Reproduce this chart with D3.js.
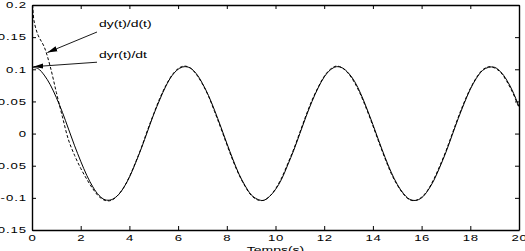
<!DOCTYPE html>
<html>
<head>
<meta charset="utf-8">
<script src="https://cdn.jsdelivr.net/npm/d3@7"></script>
<style>
  html, body { margin: 0; padding: 0; background: #fff; }
  svg { display: block; }
  text { font-family: "Liberation Sans", Arial, sans-serif; fill: #000; }
</style>
</head>
<body>
<div id="chart"></div>
<script>
// time grid (s)
const time = d3.range(0, 20.001, 0.25);

// dyr(t)/dt, solid
const dyr = [
  0.103, 0.101, 0.091, 0.076, 0.056, 0.033, 0.007, -0.019,
  -0.043, -0.065, -0.083, -0.096, -0.103, -0.103, -0.097, -0.085,
  -0.068, -0.046, -0.022, 0.004, 0.030, 0.053, 0.074, 0.090,
  0.100, 0.104, 0.102, 0.093, 0.078, 0.059, 0.036, 0.011,
  -0.015, -0.040, -0.063, -0.081, -0.095, -0.102, -0.104, -0.098,
  -0.087, -0.071, -0.049, -0.026, 0.000, 0.026, 0.050, 0.071,
  0.088, 0.099, 0.104, 0.102, 0.094, 0.081, 0.062, 0.039,
  0.014, -0.012, -0.037, -0.060, -0.079, -0.093, -0.102, -0.104,
  -0.100, -0.089, -0.073, -0.052, -0.029, -0.003, 0.023, 0.047,
  0.069, 0.086, 0.098, 0.103, 0.103, 0.096, 0.083, 0.065,
  0.042
];

// dy(t)/d(t), dashed (first samples before the regular grid)
const dyHeadTime = [0.03, 0.08];
const dyHead = [0.2, 0.176];
const dy = [
  0.153, 0.135, 0.104, 0.064, 0.026, -0.010, -0.034,
  -0.054, -0.071, -0.086, -0.098, -0.104, -0.104, -0.097, -0.085,
  -0.067, -0.045, -0.021, 0.006, 0.031, 0.055, 0.075, 0.091,
  0.101, 0.105, 0.102, 0.092, 0.077, 0.058, 0.034, 0.009,
  -0.017, -0.042, -0.064, -0.082, -0.096, -0.103, -0.104, -0.098,
  -0.086, -0.069, -0.047, -0.024, 0.002, 0.028, 0.052, 0.072,
  0.089, 0.100, 0.105, 0.102, 0.093, 0.079, 0.060, 0.037,
  0.012, -0.014, -0.039, -0.062, -0.080, -0.094, -0.103, -0.104,
  -0.099, -0.088, -0.071, -0.050, -0.027, -0.001, 0.025, 0.049,
  0.070, 0.087, 0.099, 0.104, 0.102, 0.095, 0.081, 0.063,
  0.040
];

const xTicks = d3.range(0, 20.001, 2);
const yTicks = [-0.15, -0.1, -0.05, 0, 0.05, 0.1, 0.15, 0.2];

// annotations: label position and arrow tail/tip, in data units
const labels = ['dy(t)/d(t)', 'dyr(t)/dt'];
const labelAt = [[2.75, 0.166], [2.75, 0.118]];
const arrowFrom = [[2.67, 0.158], [2.67, 0.111]];
const arrowTo = [[0.63, 0.126], [0.05, 0.104]];

const W = 525, H = 251;
const margin = { top: 5, right: 6, bottom: 21, left: 32 };
const SX = 1.55; // horizontal stretch of the lettering

const svg = d3.select('#chart').append('svg')
  .attr('width', W)
  .attr('height', H);

svg.append('rect').attr('width', W).attr('height', H).attr('fill', '#fff');

const x = d3.scaleLinear().domain([0, 20]).range([margin.left, W - margin.right]);
const y = d3.scaleLinear().domain([-0.15, 0.2]).range([H - margin.bottom, margin.top]);

function stretch(sel) {
  sel.each(function () {
    const t = d3.select(this);
    const tx = +t.attr('x') || 0;
    t.attr('x', tx / SX).attr('transform', `scale(${SX},1)`);
  });
}

const fmt = d => (d === 0 ? '0' : String(+d.toFixed(2)));

// axes
const gx = svg.append('g')
  .attr('transform', `translate(0,${y(-0.15)})`)
  .call(d3.axisBottom(x).tickValues(xTicks).tickSize(-4).tickSizeOuter(0).tickPadding(5).tickFormat(d3.format('d')));
const gy = svg.append('g')
  .attr('transform', `translate(${x(0)},0)`)
  .call(d3.axisLeft(y).tickValues(yTicks).tickSize(-4).tickSizeOuter(0).tickPadding(5).tickFormat(fmt));
const gt = svg.append('g')
  .attr('transform', `translate(0,${y(0.2)})`)
  .call(d3.axisTop(x).tickValues(xTicks).tickSize(-4).tickSizeOuter(0).tickFormat(''));
const gr = svg.append('g')
  .attr('transform', `translate(${x(20)},0)`)
  .call(d3.axisRight(y).tickValues(yTicks).tickSize(-4).tickSizeOuter(0).tickFormat(''));

[gx, gy, gt, gr].forEach(g => {
  g.selectAll('.domain').attr('stroke', '#000').attr('stroke-width', 1.4);
  g.selectAll('.tick line').attr('stroke', '#000').attr('stroke-width', 1);
  g.selectAll('.tick text')
    .style('font-family', '"Liberation Sans", Arial, sans-serif')
    .style('font-size', '8.5px')
    .style('letter-spacing', '0.4px')
    .attr('fill', '#000')
    .call(stretch);
});
gy.selectAll('.tick text').style('letter-spacing', '0.6px');

// axis title
svg.append('text')
  .attr('transform', `translate(${(x(0) + x(20)) / 2},${H + 2}) scale(${SX},1)`)
  .attr('text-anchor', 'middle')
  .style('font-size', '9px')
  .text('Temps(s)');

// curves
const line = d3.line()
  .x(d => x(d[0]))
  .y(d => y(d[1]))
  .curve(d3.curveCatmullRom);

const solidPts = time.map((t, i) => [t, dyr[i]]);
const dashPts = dyHeadTime.map((t, i) => [t, dyHead[i]])
  .concat(time.slice(1).map((t, i) => [t, dy[i]]));

const plot = svg.append('g');
plot.append('path')
  .datum(dashPts)
  .attr('d', line)
  .attr('fill', 'none')
  .attr('stroke', '#000')
  .attr('stroke-width', 1)
  .attr('stroke-dasharray', '3,2');

plot.append('path')
  .datum(solidPts)
  .attr('d', line)
  .attr('fill', 'none')
  .attr('stroke', '#000')
  .attr('stroke-width', 1);

// arrows
svg.append('defs').append('marker')
  .attr('id', 'head')
  .attr('markerUnits', 'userSpaceOnUse')
  .attr('viewBox', '0 -3 10 6')
  .attr('refX', 10)
  .attr('refY', 0)
  .attr('markerWidth', 10)
  .attr('markerHeight', 6)
  .attr('orient', 'auto')
  .append('path')
  .attr('d', 'M0,-2.6L10,0L0,2.6Z')
  .attr('fill', '#000');

labels.forEach((lab, i) => {
  svg.append('line')
    .attr('x1', x(arrowFrom[i][0]))
    .attr('y1', y(arrowFrom[i][1]))
    .attr('x2', x(arrowTo[i][0]))
    .attr('y2', y(arrowTo[i][1]))
    .attr('stroke', '#000')
    .attr('stroke-width', 0.9)
    .attr('marker-end', 'url(#head)');

  svg.append('text')
    .attr('transform', `translate(${x(labelAt[i][0])},${y(labelAt[i][1])}) scale(${SX},1)`)
    .style('font-size', '9px')
    .text(lab);
});
</script>
</body>
</html>
